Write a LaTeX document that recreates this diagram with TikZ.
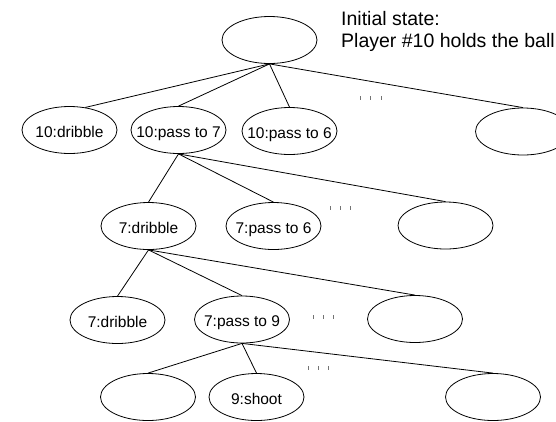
\documentclass[tikz,border=0pt]{standalone}
\usepackage{fontspec}
\setmainfont{Liberation Sans}
\usetikzlibrary{shapes.geometric}

% label set with zero size, baseline fixed below the centre,
% so every ellipse keeps the same size and the text sits level
\newcommand\statetext[1]{\makebox[0pt]{\raisebox{-7.2pt}[0pt][0pt]{#1}}}

\tikzset{
  state/.style={draw, ellipse, line width=0.8pt, inner sep=0pt,
    minimum width=95pt, minimum height=47pt,
    font=\fontsize{15.5}{18}\selectfont},
  edge/.style={line width=0.8pt},
  dotmark/.style={draw=black!55, line width=0.7pt},
  heading/.style={anchor=base west, inner sep=0pt,
    font=\fontsize{19.5}{22}\selectfont}
}

\begin{document}
\begin{tikzpicture}[x=1pt, y=-1pt]
  \useasboundingbox (0,0) rectangle (556,421);

  % root and heading
  \node[state] (root) at (269.5,40) {};
  \node[heading] (head1) at (341,25) {Initial state:};
  \node[heading] (head2) at (341,47) {Player \#10 holds the ball};

  % first level
  \node[state] (a1) at (69.5,130) {\statetext{10:dribble}};
  \node[state] (a2) at (178.5,130) {\statetext{10:pass to 7}};
  \node[state] (a3) at (289.5,131) {\statetext{10:pass to 6}};
  \node[state] (a4) at (523,131.5) {};

  % second level
  \node[state] (b1) at (148.5,226) {\statetext{7:dribble}};
  \node[state] (b2) at (273.5,226) {\statetext{7:pass to 6}};
  \node[state] (b3) at (445.5,225.5) {};

  % third level
  \node[state] (c1) at (117.5,320) {\statetext{7:dribble}};
  \node[state] (c2) at (242,319.5) {\statetext{7:pass to 9}};
  \node[state] (c3) at (415,319) {};

  % fourth level
  \node[state] (d1) at (148,397) {};
  \node[state] (d2) at (256.5,397) {\statetext{9:shoot}};
  \node[state] (d3) at (493,397) {};

  % tree edges
  \draw[edge] (root.south) -- (a1.55);
  \draw[edge] (root.south) -- (a2.north);
  \draw[edge] (root.south) -- (a3.north);
  \draw[edge] (root.south) -- (a4.north);

  \draw[edge] (a2.south) -- (b1.north);
  \draw[edge] (a2.south) -- (b2.north);
  \draw[edge] (a2.south) -- (b3.north);

  \draw[edge] (b1.south) -- (c1.north);
  \draw[edge] (b1.south) -- (c2.north);
  \draw[edge] (b1.south) -- (c3.north);

  \draw[edge] (c2.south) -- (d1.north);
  \draw[edge] (c2.south) -- (d2.north);
  \draw[edge] (c2.south) -- (d3.north);

  % ellipsis marks between siblings
  \foreach \x in {360,370.5,381} \draw[dotmark] (\x,96) -- (\x,100);
  \foreach \x in {330.5,340,350} \draw[dotmark] (\x,206) -- (\x,210);
  \foreach \x in {313,323,333} \draw[dotmark] (\x,315) -- (\x,319);
  \foreach \x in {308,318,328} \draw[dotmark] (\x,366) -- (\x,370);
\end{tikzpicture}
\end{document}
